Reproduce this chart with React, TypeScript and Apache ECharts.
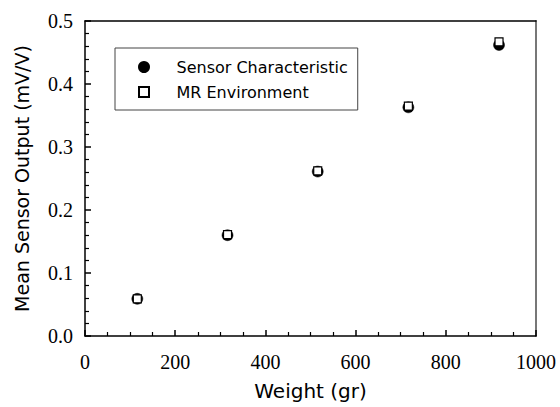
import React, { useEffect, useRef } from "react";
import * as echarts from "echarts";

const weights = [116, 316, 516, 717, 918];
const sensorCharacteristic = [0.059, 0.16, 0.261, 0.363, 0.462];
const mrEnvironment = [0.059, 0.161, 0.262, 0.365, 0.467];
const seriesNames = ["Sensor Characteristic", "MR Environment"];
const xTitle = "Weight (gr)";
const yTitle = "Mean Sensor Output (mV/V)";

const sansFont = "DejaVu Sans";
const serifFont = "Liberation Serif";

export default function App() {
  const ref = useRef<HTMLDivElement>(null);
  useEffect(() => {
    if (!ref.current) return;
    const chart = echarts.init(ref.current, null, { renderer: "svg" });
    const pairs = (ys: number[]) => weights.map((x, i) => [x, ys[i]]);
    chart.setOption({
      animation: false,
      backgroundColor: "#ffffff",
      grid: { left: 85, right: 24, top: 21, bottom: 71 },
      legend: {
        left: 115,
        top: 48,
        orient: "vertical",
        itemWidth: 55,
        itemHeight: 10,
        itemGap: 9,
        symbolKeepAspect: true,
        padding: [11, 10, 10, 23],
        borderColor: "#444",
        borderWidth: 1,
        backgroundColor: "#fff",
        textStyle: { fontFamily: sansFont, fontSize: 16, color: "#000" },
        data: [
          { name: seriesNames[0], icon: "circle" },
          { name: seriesNames[1], icon: "path://M0,0H10V10H0Z" },
        ],
      },
      xAxis: [
        {
          type: "value",
          min: 0,
          max: 1000,
          interval: 200,
          position: "bottom",
          name: xTitle,
          nameLocation: "middle",
          nameGap: 45,
          nameTextStyle: { fontFamily: sansFont, fontSize: 20, color: "#000" },
          axisLine: { show: true, lineStyle: { color: "#000", width: 1.5 } },
          axisTick: { show: true, inside: true, length: 6, lineStyle: { color: "#000", width: 1.5 } },
          minorTick: { show: true, splitNumber: 4, length: 4, lineStyle: { color: "#000", width: 1.2 } },
          axisLabel: {
            fontFamily: serifFont,
            fontSize: 20,
            color: "#000",
            margin: 16,
            formatter: (v: number) => String(v),
          },
          splitLine: { show: false },
        },
        {
          type: "value",
          min: 0,
          max: 1000,
          position: "top",
          axisLine: { show: true, onZero: false, lineStyle: { color: "#000", width: 1.5 } },
          axisTick: { show: false },
          axisLabel: { show: false },
          splitLine: { show: false },
        },
      ],
      yAxis: [
        {
          type: "value",
          min: 0,
          max: 0.5,
          interval: 0.1,
          position: "left",
          name: yTitle,
          nameLocation: "middle",
          nameGap: 54,
          nameTextStyle: { fontFamily: sansFont, fontSize: 19, color: "#000" },
          axisLine: { show: true, lineStyle: { color: "#000", width: 1.5 } },
          axisTick: { show: true, inside: true, length: 6, lineStyle: { color: "#000", width: 1.5 } },
          minorTick: { show: true, splitNumber: 5, length: 4, lineStyle: { color: "#000", width: 1.2 } },
          axisLabel: {
            fontFamily: serifFont,
            fontSize: 20,
            color: "#000",
            margin: 12,
            formatter: (v: number) => v.toFixed(1),
          },
          splitLine: { show: false },
        },
        {
          type: "value",
          min: 0,
          max: 0.5,
          position: "right",
          axisLine: { show: true, onZero: false, lineStyle: { color: "#777", width: 2 } },
          axisTick: { show: false },
          axisLabel: { show: false },
          splitLine: { show: false },
        },
      ],
      series: [
        {
          name: seriesNames[0],
          type: "scatter",
          symbol: "circle",
          symbolSize: 11,
          itemStyle: { color: "#000", borderColor: "#000", borderWidth: 0.5, opacity: 1 },
          data: pairs(sensorCharacteristic),
        },
        {
          name: seriesNames[1],
          type: "scatter",
          symbol: "rect",
          symbolSize: 8,
          itemStyle: { color: "#fff", borderColor: "#000", borderWidth: 1.2, opacity: 1 },
          data: pairs(mrEnvironment),
        },
      ],
    });
    return () => chart.dispose();
  }, []);
  return (
    <div
      ref={ref}
      style={{ position: "fixed", left: 0, top: 0, width: 560, height: 407, background: "#fff" }}
    />
  );
}
